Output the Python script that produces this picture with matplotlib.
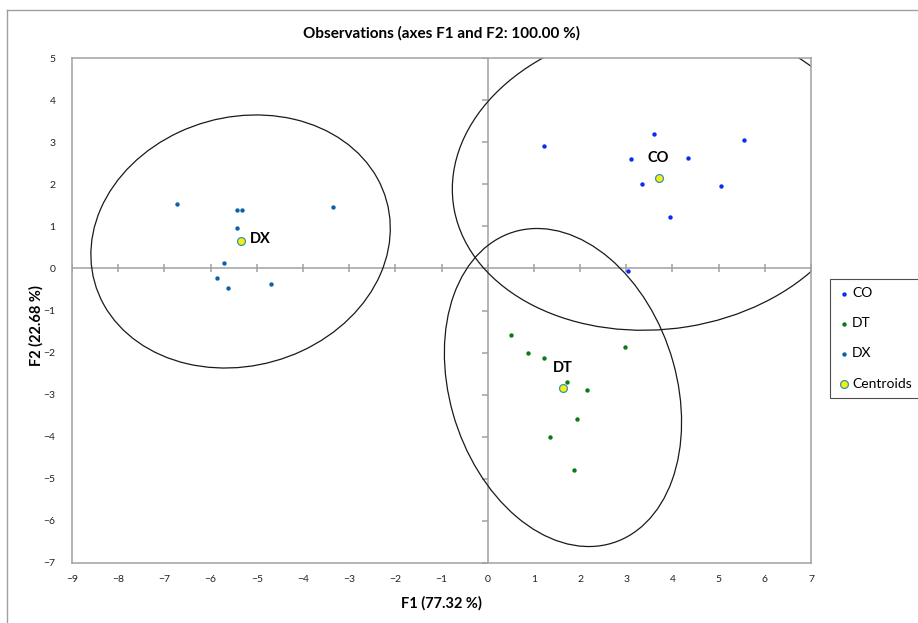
import numpy as np
import matplotlib
matplotlib.use("Agg")
import matplotlib.pyplot as plt
from matplotlib.patches import Ellipse
from matplotlib.lines import Line2D

plt.rcParams['font.family'] = ['Lato', 'DejaVu Sans']

# observations (F1, F2)
co_f1 = [1.21, 3.60, 3.10, 4.33, 5.56, 3.35, 5.06, 3.95, 3.03]
co_f2 = [2.92, 3.19, 2.59, 2.62, 3.05, 2.01, 1.97, 1.22, -0.05]
dt_f1 = [0.50, 0.87, 1.21, 2.97, 1.72, 2.15, 1.94, 1.35, 1.87]
dt_f2 = [-1.58, -2.02, -2.13, -1.86, -2.70, -2.90, -3.57, -4.00, -4.79]
dx_f1 = [-6.73, -5.43, -5.32, -3.34, -5.43, -5.71, -5.87, -5.63, -4.70]
dx_f2 = [1.52, 1.40, 1.40, 1.47, 0.95, 0.12, -0.23, -0.47, -0.38]

# centroids
groups = ['CO', 'DT', 'DX']
cent_f1 = [3.70, 1.63, -5.35]
cent_f2 = [2.16, -2.83, 0.64]

# confidence ellipses: semi-major, semi-minor, angle of major axis (deg)
ell_major = [4.49, 3.85, 3.32]
ell_minor = [3.60, 2.46, 2.92]
ell_angle = [10.0, 104.4, 27.0]

xticks = list(range(-9, 8))
yticks = list(range(-7, 6))

gray = '#a0a0a0'

fig = plt.figure(figsize=(9.18, 6.23), dpi=100)
ax = fig.add_axes([72 / 918, 60 / 623, 739 / 918, 505 / 623])

ax.set_xlim(-9, 7)
ax.set_ylim(-7, 5)

# zero lines with their tick marks
ax.axhline(0, color=gray, lw=1.1, zorder=1)
ax.axvline(0, color=gray, lw=1.1, zorder=1)
ax.plot(xticks, [0] * len(xticks), ls='', marker='|', ms=6, mew=1.1, color=gray, zorder=1)
ax.plot([0] * len(yticks), yticks, ls='', marker=0, ms=4, mew=1.1, color=gray, zorder=1)

# ellipses
for cx, cy, a, b, ang in zip(cent_f1, cent_f2, ell_major, ell_minor, ell_angle):
    e = Ellipse((cx, cy), 2 * a, 2 * b, angle=ang, fill=False, ec='#1a1a1a', lw=0.9, zorder=2)
    ax.add_patch(e)

ax.scatter(co_f1, co_f2, s=10, color='#0a2cf0', lw=0, zorder=3, label='CO')
ax.scatter(dt_f1, dt_f2, s=10, color='#0a7a14', lw=0, zorder=3, label='DT')
ax.scatter(dx_f1, dx_f2, s=10, color='#0b62a8', lw=0, zorder=3, label='DX')
ax.scatter(cent_f1, cent_f2, s=32, color='#f4f20a', edgecolors='#3a8fb8', lw=0.9,
           zorder=4, label='Centroids')

# group labels next to centroids
offsets = {'CO': (0, 14, 'center'), 'DT': (0, 14, 'center'), 'DX': (7, 2, 'left')}
for g, cx, cy in zip(groups, cent_f1, cent_f2):
    dx, dy, ha = offsets[g]
    ax.annotate(g, (cx, cy), xytext=(dx, dy), textcoords='offset points',
                ha=ha, va='center', fontsize=10.5, fontweight='bold', zorder=5)

ax.set_xticks(xticks)
ax.set_yticks(yticks)
ax.tick_params(length=0, labelsize=7.5, colors='#222222')
ax.tick_params(axis='x', pad=9)
ax.tick_params(axis='y', pad=12)
for sp in ax.spines.values():
    sp.set_color(gray)
    sp.set_linewidth(1.1)

ax.set_xlabel('F1 (77.32 %)', fontsize=10.5, fontweight='bold', labelpad=8)
ax.set_ylabel('F2 (22.68 %)', fontsize=10.5, fontweight='bold')
ax.yaxis.set_label_coords(-0.038, 0.47)
ax.set_title('Observations (axes F1 and F2: 100.00 %)', fontsize=11, fontweight='bold', pad=15)

leg = ax.legend(loc='upper left', bbox_to_anchor=(830 / 918, 1 - 279 / 623),
                bbox_transform=fig.transFigure, fontsize=10, frameon=True, fancybox=False,
                edgecolor='#222222', handletextpad=0.2, handlelength=0.8,
                borderpad=0.6, labelspacing=1.3, scatterpoints=1, borderaxespad=0)
leg.get_frame().set_linewidth(0.8)

# outer chart frame
fig.add_artist(Line2D([7 / 918, 7 / 918], [0, 1 - 10 / 623], transform=fig.transFigure,
                      color=gray, lw=1.0))
fig.add_artist(Line2D([7 / 918, 1], [1 - 10 / 623, 1 - 10 / 623], transform=fig.transFigure,
                      color=gray, lw=1.0))

fig.savefig('out.png', dpi=100)
